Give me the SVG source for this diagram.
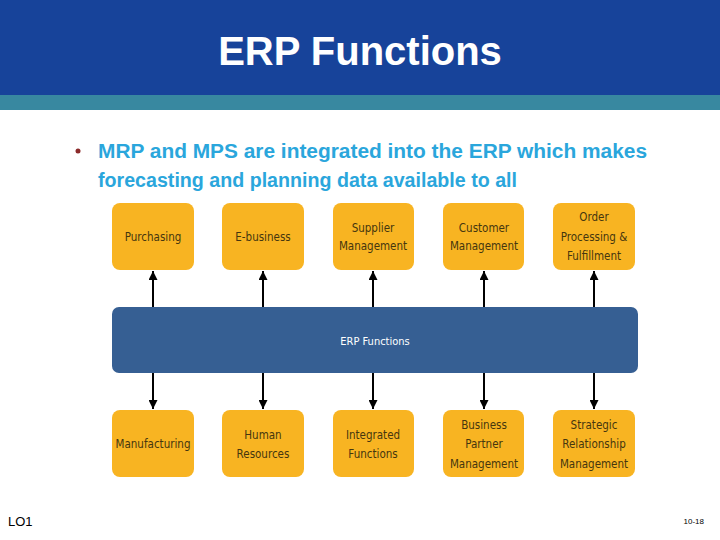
<svg xmlns="http://www.w3.org/2000/svg" width="720" height="540" viewBox="0 0 720 540">
<style>
.box{fill:#f8b422}
.bt{font-family:"DejaVu Sans Condensed","DejaVu Sans","Liberation Sans",sans-serif;font-size:11.5px;fill:#45360f;text-anchor:middle}
.ln{stroke:#000;stroke-width:2;fill:none}
</style>
<defs>
<marker id="ah" viewBox="0 0 10 10" refX="10" refY="5" markerWidth="12" markerHeight="9" markerUnits="userSpaceOnUse" orient="auto"><path d="M0,0 L10,5 L0,10 Z" fill="#000"/></marker>
</defs>
<rect x="0" y="0" width="720" height="95" fill="#17439a"/>
<rect x="0" y="95" width="720" height="15" fill="#3888a0"/>
<text x="360" y="65" text-anchor="middle" font-family="Liberation Sans,Arial,sans-serif" font-weight="bold" font-size="40" fill="#fff">ERP Functions</text>
<g id="bullet">
<circle cx="78" cy="151" r="2.5" fill="#8b2a2a"/>
<text x="98" y="158" font-family="Liberation Sans,Arial,sans-serif" font-weight="bold" font-size="20" fill="#2aa6dc" textLength="549" lengthAdjust="spacingAndGlyphs">MRP and MPS are integrated into the ERP which makes</text>
<text x="98" y="187" font-family="Liberation Sans,Arial,sans-serif" font-weight="bold" font-size="20" fill="#2aa6dc" textLength="419" lengthAdjust="spacingAndGlyphs">forecasting and planning data available to all</text>
</g>
<g id="connectors">
<line class="ln" x1="153" y1="307" x2="153" y2="271" marker-end="url(#ah)"/>
<line class="ln" x1="263" y1="307" x2="263" y2="271" marker-end="url(#ah)"/>
<line class="ln" x1="373" y1="307" x2="373" y2="271" marker-end="url(#ah)"/>
<line class="ln" x1="484" y1="307" x2="484" y2="271" marker-end="url(#ah)"/>
<line class="ln" x1="594" y1="307" x2="594" y2="271" marker-end="url(#ah)"/>
<line class="ln" x1="153" y1="373" x2="153" y2="409" marker-end="url(#ah)"/>
<line class="ln" x1="263" y1="373" x2="263" y2="409" marker-end="url(#ah)"/>
<line class="ln" x1="373" y1="373" x2="373" y2="409" marker-end="url(#ah)"/>
<line class="ln" x1="484" y1="373" x2="484" y2="409" marker-end="url(#ah)"/>
<line class="ln" x1="594" y1="373" x2="594" y2="409" marker-end="url(#ah)"/>
</g>
<g id="erp">
<rect x="112" y="307" width="526" height="66" rx="7" fill="#365f93"/>
<text x="375" y="345" font-family="DejaVu Sans Condensed,DejaVu Sans,sans-serif" font-size="11" fill="#fff" text-anchor="middle">ERP Functions</text>
</g>
<g id="purchasing"><rect class="box" x="112" y="203" width="82" height="67" rx="8"/><text class="bt" x="153" y="241">Purchasing</text></g>
<g id="ebusiness"><rect class="box" x="222" y="203" width="82" height="67" rx="8"/><text class="bt" x="263" y="241">E-business</text></g>
<g id="supplier"><rect class="box" x="333" y="203" width="81" height="67" rx="8"/><text class="bt" x="373" y="232">Supplier</text><text class="bt" x="373" y="250">Management</text></g>
<g id="customer"><rect class="box" x="443" y="203" width="81" height="67" rx="8"/><text class="bt" x="484" y="232">Customer</text><text class="bt" x="484" y="250">Management</text></g>
<g id="order"><rect class="box" x="553" y="203" width="82" height="67" rx="8"/><text class="bt" x="594" y="221">Order</text><text class="bt" x="594" y="241">Processing &amp;</text><text class="bt" x="594" y="260">Fulfillment</text></g>
<g id="manufacturing"><rect class="box" x="112" y="410" width="82" height="67" rx="8"/><text class="bt" x="153" y="448">Manufacturing</text></g>
<g id="hr"><rect class="box" x="222" y="410" width="82" height="67" rx="8"/><text class="bt" x="263" y="439">Human</text><text class="bt" x="263" y="458">Resources</text></g>
<g id="integrated"><rect class="box" x="333" y="410" width="81" height="67" rx="8"/><text class="bt" x="373" y="439">Integrated</text><text class="bt" x="373" y="458">Functions</text></g>
<g id="bpm"><rect class="box" x="443" y="410" width="81" height="67" rx="8"/><text class="bt" x="484" y="429">Business</text><text class="bt" x="484" y="448">Partner</text><text class="bt" x="484" y="468">Management</text></g>
<g id="srm"><rect class="box" x="553" y="410" width="82" height="67" rx="8"/><text class="bt" x="594" y="429">Strategic</text><text class="bt" x="594" y="448">Relationship</text><text class="bt" x="594" y="468">Management</text></g>
<text x="8" y="526" font-family="Liberation Sans,Arial,sans-serif" font-size="13" fill="#000">LO1</text>
<text x="704" y="524" font-family="Liberation Sans,Arial,sans-serif" font-size="8" fill="#000" text-anchor="end">10-18</text>
</svg>
